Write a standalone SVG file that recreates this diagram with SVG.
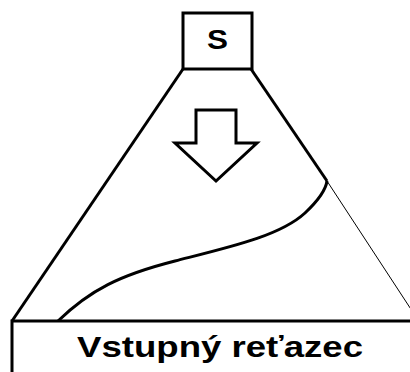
<svg xmlns="http://www.w3.org/2000/svg" width="410" height="372" viewBox="0 0 410 372">
<style>
.thick{fill:none;stroke:#000;stroke-width:3;stroke-linejoin:miter}
.thin{fill:none;stroke:#000;stroke-width:1}
.lbl{font-family:"Liberation Sans",Arial,sans-serif;font-weight:bold;fill:#000}
</style>
<rect width="410" height="372" fill="#fff"/>
<g id="connectors">
<line class="thick" x1="183" y1="69" x2="12" y2="321"/>
<line class="thick" x1="251" y1="69" x2="327" y2="181"/>
<line class="thin" x1="327" y1="181" x2="418" y2="320"/>
<path class="thick" d="M58,321 C90,290 120,275 175,261 C230,247 280,236 305,213 C322,197 326,188 327,181"/>
</g>
<g id="start">
<rect class="thick" x="183" y="13" width="69" height="56" fill="#fff"/>
<text class="lbl" x="217.5" y="49" font-size="28" text-anchor="middle" textLength="21" lengthAdjust="spacingAndGlyphs">S</text>
</g>
<g id="arrow">
<polygon class="thick" fill="#fff" points="196,110 236,110 236,143 257,143 216,181 175,143 196,143"/>
</g>
<g id="input">
<path class="thick" d="M12,372 L12,321 L412,321"/>
<text class="lbl" x="77" y="357" font-size="30" textLength="286" lengthAdjust="spacingAndGlyphs">Vstupný reťazec</text>
</g>
</svg>
